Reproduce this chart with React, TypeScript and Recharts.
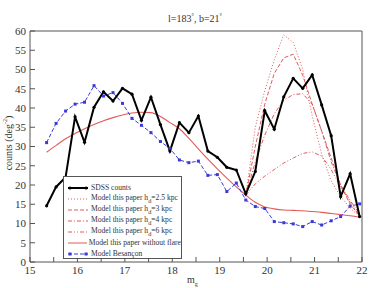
import React from "react"
import { LineChart, Line, XAxis, YAxis } from "recharts"

// apparent magnitude bins (m_g)
const mags = [
  15.35, 15.55, 15.75, 15.95, 16.15, 16.35, 16.55, 16.75, 16.95, 17.15, 17.35,
  17.55, 17.75, 17.95, 18.15, 18.35, 18.55, 18.75, 18.95, 19.15, 19.35, 19.55,
  19.75, 19.95, 20.15, 20.35, 20.55, 20.75, 20.95, 21.15, 21.35, 21.55, 21.75,
  21.95,
]

const sdssCounts = [
  14.6, 19.5, 22, 37.7, 31.1, 40.2, 44.2, 41.8, 45.1, 43.6, 36.8, 42.8, 35.7,
  28.8, 36.2, 33.6, 37.9, 28.8, 27.2, 24.6, 23.9, 17.7, 23.5, 39.3, 34.5, 42.9,
  47.7, 45.1, 48.6, 40.8, 32.8, 17.0, 22.9, 11.8,
]

const besanconCounts = [
  31, 36, 39.2, 41, 41.5, 45.8, 43.1, 44, 41.2, 37.3, 35.5, 33.6, 31.3, 29.5,
  26.5, 25.8, 26.2, 22.5, 22.7, 18.3, 20.5, 16.1, 14.4, 13.9, 10.5, 10.2, 9.9,
  9.2, 10.5, 9.6, 10.7, 11.8, 14.5, 15.1,
]

const noFlareCounts = [
  28.5, 30.3, 32, 33.4, 34.6, 35.7, 36.7, 37.5, 38.2, 38.7, 38.9, 38.8, 37.8,
  36.2, 34.6, 32.1, 29.4, 26.7, 24.2, 21.8, 19.5, 17.4, 15.5, 14.3, 13.8, 13.5,
  13.4, 13.3, 13.1, 12.9, 12.6, 12.3, 12, 11.6,
]

// flare models only differ from the no-flare one from m_g = 19.55 on
const flareStart = 21
const flare25 = [17.4, 35, 44.5, 52.5, 59, 57, 50, 38, 28, 21, 17, 14, 11.8]
const flare3 = [17.4, 30, 41, 49, 53, 54, 48.5, 41, 34, 27, 20, 15, 12]
const flare4 = [17.4, 26, 33, 38.5, 42, 43.5, 43.7, 41, 34, 26, 20, 16, 12.5]
const flare6 = [17.4, 20.3, 22.3, 24, 25.7, 27, 28.2, 28.6, 27.5, 24, 19.5, 15.5, 12]

const xTicks = [15, 15.5, 16, 16.5, 17, 17.5, 18, 18.5, 19, 19.5, 20, 20.5, 21, 21.5, 22]
const yTicks = [0, 5, 10, 15, 20, 25, 30, 35, 40, 45, 50, 55, 60]

const data = mags.map((m, i) => {
  const j = i - flareStart
  return {
    m,
    sdss: sdssCounts[i],
    besancon: besanconCounts[i],
    noFlare: noFlareCounts[i],
    f25: j >= 0 ? flare25[j] : null,
    f3: j >= 0 ? flare3[j] : null,
    f4: j >= 0 ? flare4[j] : null,
    f6: j >= 0 ? flare6[j] : null,
  }
})

const RED = "#e25a5a"
const BLUE = "#3a3ad8"
const FONT = "'Liberation Serif', 'DejaVu Serif', serif"

const intOnly = (v: number) => (Number.isInteger(v) ? String(v) : "")

const BlueSquare = (props: any) => {
  const { cx, cy, index } = props
  if (cx == null || cy == null) return <g key={index} />
  return <rect key={index} x={cx - 1.5} y={cy - 1.5} width={3} height={3} fill={BLUE} />
}

type Entry = { label: React.ReactNode; color: string; dash?: string; width: number; marker?: "dot" | "square" }

const legendEntries: Entry[] = [
  { label: "SDSS counts", color: "#000", width: 2, marker: "dot" },
  { label: <>Model this paper h<sub>d</sub>=2.5 kpc</>, color: RED, dash: "1 2", width: 1 },
  { label: <>Model this paper h<sub>d</sub>=3 kpc</>, color: RED, dash: "4 2", width: 1 },
  { label: <>Model this paper h<sub>d</sub>=4 kpc</>, color: RED, dash: "4 2 1 2", width: 1 },
  { label: <>Model this paper h<sub>d</sub>=6 kpc</>, color: RED, dash: "4 2 1 2 1 2", width: 1 },
  { label: "Model this paper without flare", color: RED, width: 1 },
  { label: "Model Besançon", color: BLUE, dash: "4 2", width: 1, marker: "square" },
]

function LegendBox() {
  return (
    <div
      style={{
        position: "absolute",
        left: 63,
        top: 176,
        width: 119,
        height: 83,
        border: "1px solid #555",
        background: "#fff",
        fontFamily: FONT,
        fontSize: 7.6,
        color: "#333",
        paddingTop: 5,
        boxSizing: "border-box",
      }}
    >
      {legendEntries.map((e, i) => (
        <div key={i} style={{ display: "flex", alignItems: "center", height: 11, whiteSpace: "nowrap" }}>
          <svg width={22} height={6} style={{ marginLeft: 3, marginRight: 2 }}>
            <line x1={1} y1={3} x2={21} y2={3} stroke={e.color} strokeWidth={e.width} strokeDasharray={e.dash} />
            {e.marker === "dot" && (
              <>
                <circle cx={3} cy={3} r={1.6} fill="#000" />
                <circle cx={19} cy={3} r={1.6} fill="#000" />
              </>
            )}
            {e.marker === "square" && (
              <>
                <rect x={1.5} y={1.5} width={3} height={3} fill={BLUE} />
                <rect x={17.5} y={1.5} width={3} height={3} fill={BLUE} />
              </>
            )}
          </svg>
          <span style={{ lineHeight: "11px" }}>{e.label}</span>
        </div>
      ))}
    </div>
  )
}

export default function App() {
  const tickStyle = { fontSize: 11, fontFamily: FONT, fill: "#333" }
  return (
    <div style={{ position: "absolute", left: 0, top: 0, width: 374, height: 288, background: "#fff" }}>
      <LineChart width={374} height={288} data={data} margin={{ top: 30, right: 11, bottom: 25, left: 29 }}>
        <XAxis
          dataKey="m"
          type="number"
          domain={[15, 22]}
          ticks={xTicks}
          interval={0}
          height={1}
          tickSize={-5}
          tickMargin={9}
          tickFormatter={intOnly}
          tick={tickStyle}
          stroke="#555"
        />
        <XAxis
          xAxisId="top"
          orientation="top"
          dataKey="m"
          type="number"
          domain={[15, 22]}
          ticks={xTicks}
          interval={0}
          height={1}
          tickSize={-5}
          tick={false}
          stroke="#555"
        />
        <YAxis
          type="number"
          domain={[0, 60]}
          ticks={yTicks}
          interval={0}
          width={1}
          tickSize={-5}
          tickMargin={9}
          tickFormatter={intOnly}
          tick={tickStyle}
          stroke="#555"
        />
        <YAxis
          yAxisId="right"
          orientation="right"
          type="number"
          domain={[0, 60]}
          ticks={yTicks}
          interval={0}
          width={1}
          tickSize={-5}
          tick={false}
          stroke="#555"
        />
        <Line dataKey="f25" stroke={RED} strokeWidth={1} strokeDasharray="1 2" dot={false} isAnimationActive={false} />
        <Line dataKey="f3" stroke={RED} strokeWidth={1} strokeDasharray="4 2" dot={false} isAnimationActive={false} />
        <Line dataKey="f4" stroke={RED} strokeWidth={1} strokeDasharray="4 2 1 2" dot={false} isAnimationActive={false} />
        <Line dataKey="f6" stroke={RED} strokeWidth={1} strokeDasharray="4 2 1 2 1 2" dot={false} isAnimationActive={false} />
        <Line dataKey="noFlare" type="monotone" stroke={RED} strokeWidth={1.1} dot={false} isAnimationActive={false} />
        <Line
          dataKey="besancon"
          stroke={BLUE}
          strokeWidth={1}
          strokeDasharray="4 2"
          dot={BlueSquare}
          isAnimationActive={false}
        />
        <Line
          dataKey="sdss"
          stroke="#000"
          strokeWidth={2}
          dot={{ r: 1.6, fill: "#000", stroke: "#000", strokeWidth: 0 }}
          isAnimationActive={false}
        />
      </LineChart>
      <div
        style={{
          position: "absolute",
          left: 0,
          width: 374,
          top: 13,
          textAlign: "center",
          fontFamily: FONT,
          fontSize: 10,
          color: "#333",
          paddingLeft: 16,
          boxSizing: "border-box",
        }}
      >
        l=183<sup style={{ fontSize: 6 }}>°</sup>, b=21<sup style={{ fontSize: 6 }}>°</sup>
      </div>
      <div
        style={{
          position: "absolute",
          left: 8,
          top: 143,
          transform: "translate(-50%, -50%) rotate(-90deg)",
          fontFamily: FONT,
          fontSize: 10,
          color: "#333",
          whiteSpace: "nowrap",
        }}
      >
        counts (deg<sup style={{ fontSize: 6 }}>-2</sup>)
      </div>
      <div
        style={{
          position: "absolute",
          left: 187,
          top: 274,
          fontFamily: FONT,
          fontSize: 10,
          color: "#333",
        }}
      >
        m<sub style={{ fontSize: 6 }}>g</sub>
      </div>
      <LegendBox />
    </div>
  )
}
